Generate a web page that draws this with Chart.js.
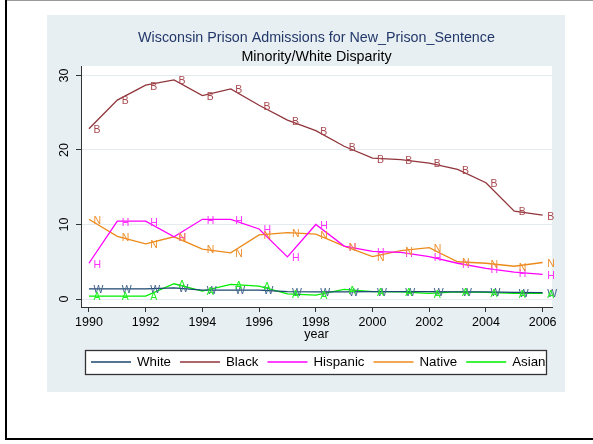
<!DOCTYPE html>
<html>
<head>
<meta charset="utf-8">
<script src="https://cdn.jsdelivr.net/npm/chart.js@4.4.1/dist/chart.umd.min.js"></script>
<style>
  html, body { margin: 0; padding: 0; background: #fff; }
</style>
</head>
<body>
<canvas id="grafico" width="593" height="444"></canvas>
<script>
const years = [1990, 1991, 1992, 1993, 1994, 1995, 1996, 1997, 1998, 1999, 2000, 2001, 2002, 2003, 2004, 2005, 2006];
const yearTicks = [1990, 1992, 1994, 1996, 1998, 2000, 2002, 2004, 2006];
const valueTicks = [0, 10, 20, 30];

const white    = [1.35, 1.35, 1.35, 1.5, 1.2, 1.2, 1.2, 1.0, 0.95, 0.95, 1.0, 1.0, 1.0, 0.95, 0.95, 0.9, 0.85];
const black    = [22.85, 26.7, 28.7, 29.4, 27.3, 28.2, 26.0, 24.0, 22.6, 20.5, 18.9, 18.7, 18.25, 17.4, 15.6, 11.8, 11.25];
const hispanic = [4.8, 10.45, 10.45, 8.35, 10.7, 10.7, 9.4, 5.65, 10.0, 7.1, 6.4, 6.25, 5.7, 4.8, 4.1, 3.6, 3.3];
const native   = [10.7, 8.4, 7.4, 8.35, 6.7, 6.2, 8.6, 8.9, 8.7, 7.1, 5.7, 6.5, 6.9, 5.0, 4.8, 4.4, 4.9];
const asian    = [0.4, 0.4, 0.4, 2.05, 1.07, 1.97, 1.74, 0.7, 0.53, 1.3, 1.0, 0.95, 0.76, 0.95, 0.9, 0.75, 0.75];

const seriesNames = ['White', 'Black', 'Hispanic', 'Native', 'Asian'];
const seriesLetters = ['W', 'B', 'H', 'N', 'A'];
const seriesValues = [white, black, hispanic, native, asian];
const lineColors = ['#1a476f', '#90353b', '#ff00ff', '#ec8a1a', '#00ee00'];
const labelColors = ['#44668c', '#a84a50', '#ff33ff', '#ee9030', '#22f022'];

const FONT = '"Liberation Sans", Arial, sans-serif';

const datasets = seriesValues.map((vals, i) => ({
  label: seriesNames[i],
  data: vals.map((v, j) => ({ x: years[j], y: v })),
  borderColor: lineColors[i],
  borderWidth: 1.3,
  pointRadius: 0,
  tension: 0,
  fill: false,
  letter: seriesLetters[i],
  letterColor: labelColors[i]
}));

const stataLook = {
  id: 'stataLook',
  beforeDraw(chart) {
    const ctx = chart.ctx;
    const a = chart.chartArea;
    ctx.save();
    // outer frame
    ctx.fillStyle = '#999';
    ctx.fillRect(5, 0, 588, 1);
    ctx.fillStyle = '#000';
    ctx.fillRect(5, 0, 2, 440);
    ctx.fillRect(5, 438, 588, 2);
    // graph region
    ctx.fillStyle = '#e8eff2';
    ctx.fillRect(47, 15, 518, 377);
    // plot region
    ctx.fillStyle = '#fff';
    ctx.fillRect(a.left, a.top, a.right - a.left, a.bottom - a.top);
    ctx.restore();
  },
  afterDatasetsDraw(chart) {
    const ctx = chart.ctx;
    ctx.save();
    ctx.font = '10.5px ' + FONT;
    ctx.textAlign = 'left';
    ctx.textBaseline = 'middle';
    chart.data.datasets.forEach((ds, i) => {
      const meta = chart.getDatasetMeta(i);
      ctx.fillStyle = ds.letterColor;
      meta.data.forEach(pt => {
        ctx.fillText(ds.letter, pt.x + 4.5, pt.y + 1.5);
      });
    });
    ctx.restore();
  },
  afterDraw(chart) {
    const ctx = chart.ctx;
    const a = chart.chartArea;
    const yScale = chart.scales.y;
    const cx = (a.left + a.right) / 2;
    ctx.save();
    ctx.textAlign = 'center';
    ctx.textBaseline = 'middle';

    // titles
    ctx.fillStyle = '#22386a';
    ctx.font = '14.3px ' + FONT;
    ctx.fillText('Wisconsin Prison Admissions for New_Prison_Sentence', cx, 38);
    ctx.fillStyle = '#000';
    ctx.font = '14.3px ' + FONT;
    ctx.fillText('Minority/White Disparity', cx, 57);

    // y tick labels, rotated like Stata
    ctx.font = '12.5px ' + FONT;
    valueTicks.forEach(v => {
      const py = yScale.getPixelForValue(v);
      ctx.save();
      ctx.translate(65, py);
      ctx.rotate(-Math.PI / 2);
      ctx.fillText(String(v), 0, 0);
      ctx.restore();
    });

    // x axis title
    ctx.fillText('year', cx, 335);

    // legend
    const boxX = 85, boxY = 350, boxW = 461, boxH = 24;
    ctx.fillStyle = '#fff';
    ctx.fillRect(boxX, boxY, boxW, boxH);
    ctx.save();
    ctx.beginPath();
    ctx.rect(boxX, boxY, boxW, boxH);
    ctx.clip();
    ctx.font = '13.3px ' + FONT;
    ctx.textAlign = 'left';
    let x = 91;
    const ly = boxY + boxH / 2;
    chart.data.datasets.forEach(ds => {
      ctx.strokeStyle = ds.borderColor;
      ctx.lineWidth = 1.5;
      ctx.beginPath();
      ctx.moveTo(x, ly);
      ctx.lineTo(x + 40, ly);
      ctx.stroke();
      ctx.fillStyle = '#000';
      ctx.fillText(ds.label, x + 46, ly + 0.5);
      x += 46 + ctx.measureText(ds.label).width + 9;
    });
    ctx.restore();
    ctx.strokeStyle = '#333';
    ctx.lineWidth = 1.3;
    ctx.strokeRect(boxX + 0.5, boxY + 0.5, boxW, boxH);
    ctx.restore();
  }
};

new Chart(document.getElementById('grafico'), {
  type: 'line',
  data: { datasets: datasets },
  options: {
    responsive: false,
    animation: false,
    devicePixelRatio: 1,
    layout: { padding: { left: 76, right: 41, top: 66, bottom: 107 } },
    plugins: {
      legend: { display: false },
      title: { display: false },
      tooltip: { enabled: false }
    },
    scales: {
      x: {
        type: 'linear',
        min: 1989.72,
        max: 2006.33,
        afterBuildTicks: scale => { scale.ticks = yearTicks.map(v => ({ value: v })); },
        afterFit: scale => { scale.height = 30; },
        ticks: {
          autoSkip: false,
          maxRotation: 0,
          padding: 3,
          color: '#000',
          font: { family: FONT, size: 12.5 },
          callback: v => String(v)
        },
        grid: { drawOnChartArea: false, tickLength: 5, tickColor: '#333' },
        border: { display: true, color: '#333', width: 1 }
      },
      y: {
        type: 'linear',
        min: -1.07,
        max: 31.27,
        afterBuildTicks: scale => { scale.ticks = valueTicks.map(v => ({ value: v })); },
        afterFit: scale => { scale.width = 5; },
        ticks: { display: false },
        grid: { color: '#e3ebee', lineWidth: 1, tickLength: 5, tickColor: '#333' },
        border: { display: true, color: '#333', width: 1 }
      }
    }
  },
  plugins: [stataLook]
});
</script>
</body>
</html>
